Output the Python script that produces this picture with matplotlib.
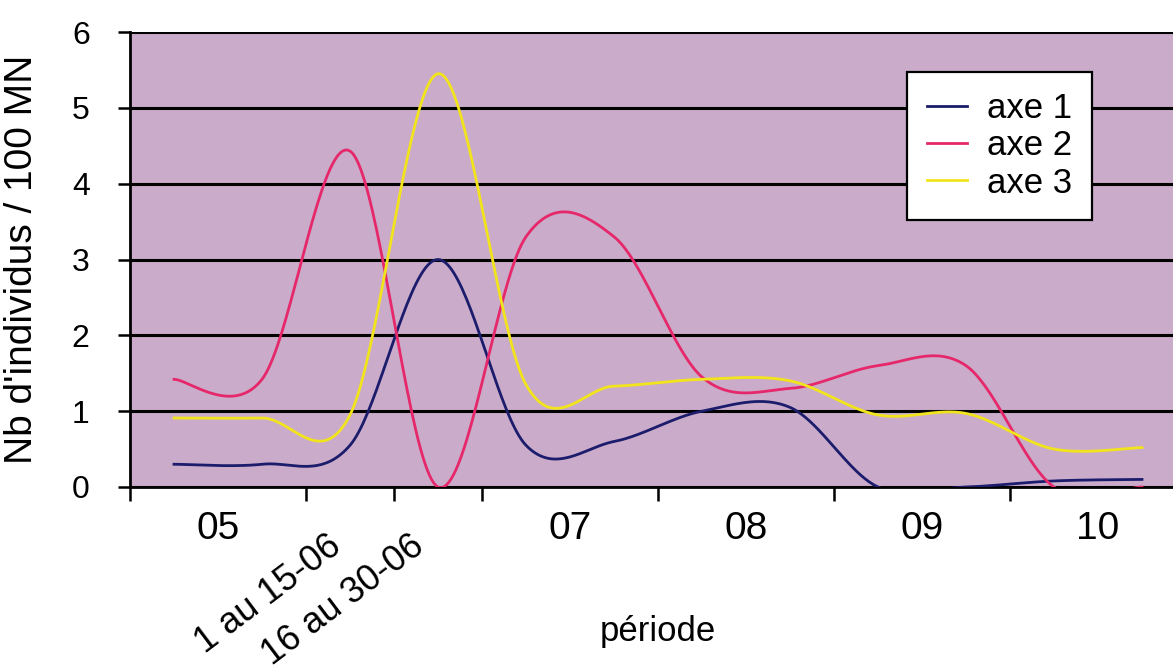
import numpy as np
import matplotlib.pyplot as plt
from matplotlib.transforms import ScaledTranslation

# periods on the x axis; data is sampled every half month (two slots per month)
periods = ['05', '1 au 15-06', '16 au 30-06', '07', '08', '09', '10']
label_pos = [1, 2.5, 3.5, 5, 7, 9, 11]
bounds = [0, 2, 3, 4, 6, 8, 10, 12]
slots = np.arange(12) + 0.5

axe1 = [0.30, 0.30, 0.55, 3.00, 0.55, 0.60, 1.00, 1.05, 0.00, 0.00, 0.08, 0.10]
axe2 = [1.42, 1.42, 4.43, 0.00, 3.30, 3.30, 1.45, 1.30, 1.60, 1.60, 0.00, 0.00]
axe3 = [0.91, 0.91, 0.95, 5.45, 1.35, 1.33, 1.42, 1.40, 0.95, 0.97, 0.50, 0.52]


def smooth(x, y, n=40):
    # catmull-rom curve through the points, like excel's "smoothed line"
    x = np.asarray(x, float)
    y = np.asarray(y, float)
    px = np.r_[x[0], x, x[-1]]
    py = np.r_[y[0], y, y[-1]]
    t = np.linspace(0, 1, n, endpoint=False)
    h00 = 2*t**3 - 3*t**2 + 1
    h10 = t**3 - 2*t**2 + t
    h01 = -2*t**3 + 3*t**2
    h11 = t**3 - t**2
    xs, ys = [], []
    for i in range(1, len(px) - 2):
        for p, out in ((px, xs), (py, ys)):
            m1 = (p[i+1] - p[i-1]) / 2
            m2 = (p[i+2] - p[i]) / 2
            out.append(h00*p[i] + h10*m1 + h01*p[i+1] + h11*m2)
    xs.append([x[-1]])
    ys.append([y[-1]])
    return np.concatenate(xs), np.concatenate(ys)


arial = ['Liberation Sans', 'DejaVu Sans']

fig = plt.figure(figsize=(11.73, 6.72), dpi=100)
ax = fig.add_axes([130/1173, 1 - 487/672, 1056/1173, 455/672])
ax.set_facecolor('#caabca')

for y, name, col in [(axe1, 'axe 1', '#1c1c6c'),
                     (axe2, 'axe 2', '#e6286a'),
                     (axe3, 'axe 3', '#f2e41c')]:
    sx, sy = smooth(slots, y)
    ax.plot(sx, sy, color=col, lw=2, label=name, zorder=3)

ax.set_xlim(0, 12)
ax.set_ylim(0, 6)
ax.set_yticks(range(7))
ax.yaxis.grid(True, color='black', lw=2.2)
ax.set_axisbelow(True)
for s in ['top', 'right']:
    ax.spines[s].set_visible(False)
for s in ['left', 'bottom']:
    ax.spines[s].set_linewidth(2)

ax.tick_params(axis='y', direction='out', length=9, width=1.8, pad=20,
               labelsize=23)
for lab in ax.get_yticklabels():
    lab.set_fontfamily(arial)

ax.set_xticks(bounds, minor=True)
ax.tick_params(axis='x', which='minor', direction='out', length=10, width=1.8)
ax.set_xticks(label_pos, periods)
ax.tick_params(axis='x', which='major', length=0, pad=17, labelsize=28)
for i, lab in enumerate(ax.get_xticklabels()):
    lab.set_fontfamily(['Liberation Sans Narrow'] + arial)
    if i in (1, 2):
        lab.set_fontfamily(arial)
        lab.set_fontsize(26)
        lab.set_rotation(37)
        lab.set_rotation_mode('anchor')
        lab.set_ha('right')
        lab.set_va('center')
        dx = -13/100 if i == 1 else -18/100
        lab.set_transform(lab.get_transform() +
                          ScaledTranslation(dx, -32/100, fig.dpi_scale_trans))

ax.set_ylabel("Nb d'individus / 100 MN", fontsize=28, family=arial)
ax.yaxis.set_label_coords(-90/1056, 0.5)
ax.set_xlabel('période', fontsize=25, family=arial)
ax.xaxis.set_label_coords(0.5, -128/455)

leg = ax.legend(loc='upper left', bbox_to_anchor=(0.7358, 0.912),
                prop={'family': arial, 'size': 25},
                handlelength=1.15, handletextpad=0.58, labelspacing=0.12,
                borderpad=0.58, borderaxespad=0, fancybox=False, framealpha=1,
                edgecolor='black')
leg.get_frame().set_linewidth(1.6)

fig.savefig('out.png', dpi=100)
